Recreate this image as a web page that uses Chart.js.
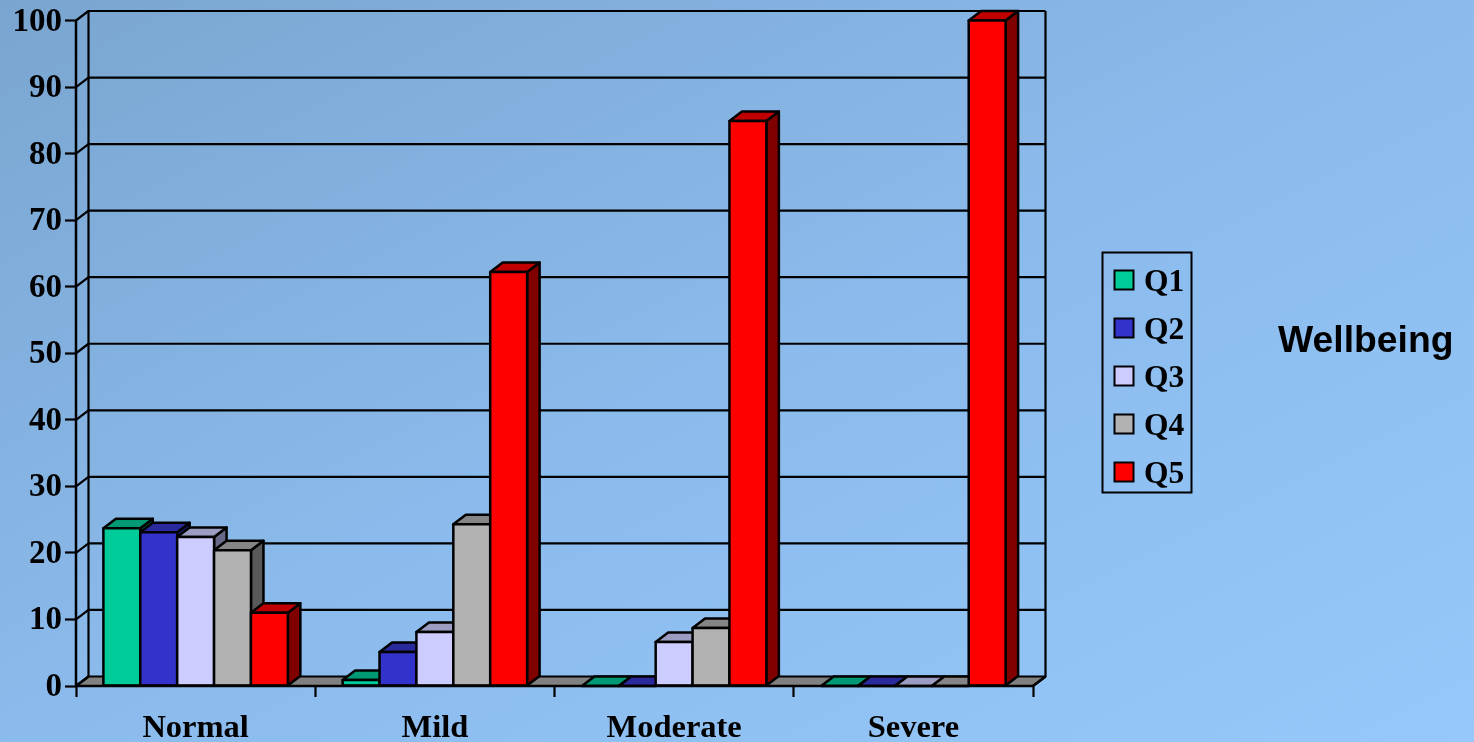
<!DOCTYPE html>
<html>
<head>
<meta charset="utf-8">
<title>Wellbeing</title>
<script src="https://cdn.jsdelivr.net/npm/chart.js@4"></script>
<style>
  html, body { margin: 0; height: 100%; overflow: hidden; }
  body { background: linear-gradient(to bottom right, #7aa5d0 0%, #8bbbec 50%, #96c8fb 100%); }
  canvas { display: block; }
</style>
</head>
<body>
<canvas id="chart" width="1474" height="742"></canvas>
<script>
// Data
const categories = ['Normal', 'Mild', 'Moderate', 'Severe'];
const q1 = [23.7, 0.9, 0, 0];
const q2 = [23.1, 5.1, 0, 0];
const q3 = [22.4, 8.1, 6.6, 0];
const q4 = [20.4, 24.3, 8.7, 0];
const q5 = [11.0, 62.2, 84.9, 100];
const seriesNames = ['Q1', 'Q2', 'Q3', 'Q4', 'Q5'];
const seriesValues = [q1, q2, q3, q4, q5];
const yTicks = [0, 10, 20, 30, 40, 50, 60, 70, 80, 90, 100];

// Face colours per series
const frontColors = ['#00cc99', '#3333cc', '#ccccff', '#b2b2b2', '#ff0000'];
const topColors = ['#009973', '#2a2a9c', '#9c9cc2', '#858585', '#c00000'];
const sideColors = ['#006b50', '#1a1a70', '#686888', '#595959', '#800000'];

const DEPTH_X = 12.5;
const DEPTH_Y = 9.5;
const LINE = 2.5;
const GRID_LINE = 2.2;
const SERIF = '"Liberation Serif", serif';

function poly(ctx, pts, fill){
  ctx.beginPath();
  pts.forEach((p, i) => i ? ctx.lineTo(p[0], p[1]) : ctx.moveTo(p[0], p[1]));
  ctx.closePath();
  if(fill){ ctx.fillStyle = fill; ctx.fill(); }
  ctx.stroke();
}

function drawWalls(chart, ctx){
  const { left, right, top, bottom } = chart.chartArea;
  const y = chart.scales.y;
  ctx.lineWidth = GRID_LINE;
  // floor
  poly(ctx, [[left, bottom], [left + DEPTH_X, bottom - DEPTH_Y], [right + DEPTH_X, bottom - DEPTH_Y], [right, bottom]], '#808080');
  // grid on the side and back walls
  yTicks.forEach(v => {
    const py = y.getPixelForValue(v);
    ctx.beginPath();
    ctx.moveTo(left, py);
    ctx.lineTo(left + DEPTH_X, py - DEPTH_Y);
    if(v > 0) ctx.lineTo(right + DEPTH_X, py - DEPTH_Y);
    ctx.stroke();
  });
  ctx.beginPath();
  ctx.moveTo(left + DEPTH_X, top - DEPTH_Y);
  ctx.lineTo(left + DEPTH_X, bottom - DEPTH_Y);
  ctx.moveTo(right + DEPTH_X, top - DEPTH_Y);
  ctx.lineTo(right + DEPTH_X, bottom - DEPTH_Y);
  ctx.stroke();
  ctx.lineWidth = LINE;
}

function drawBar(chart, ctx, bar, s){
  const { x, y, base, width } = bar.getProps(['x', 'y', 'base', 'width'], true);
  const l = x - width / 2, r = x + width / 2;
  if(base - y > 0.5){
    poly(ctx, [[r, y], [r + DEPTH_X, y - DEPTH_Y], [r + DEPTH_X, base - DEPTH_Y], [r, base]], sideColors[s]);
  }
  poly(ctx, [[l, y], [l + DEPTH_X, y - DEPTH_Y], [r + DEPTH_X, y - DEPTH_Y], [r, y]], topColors[s]);
  if(base - y > 0.5){
    bar.draw(ctx);
    ctx.strokeRect(l, y, width, base - y);
  }
}

const chart3d = {
  id: 'chart3d',
  // the bars have to be painted left to right so each front covers the last side
  beforeDatasetsDraw(chart){
    const ctx = chart.ctx;
    ctx.save();
    ctx.lineWidth = LINE;
    ctx.strokeStyle = '#000';
    ctx.lineJoin = 'round';
    drawWalls(chart, ctx);
    categories.forEach((c, i) => {
      seriesNames.forEach((n, s) => {
        drawBar(chart, ctx, chart.getDatasetMeta(s).data[i], s);
      });
    });
    // front axis lines go over the bar feet
    const { left, right, bottom, top } = chart.chartArea;
    ctx.beginPath();
    ctx.moveTo(left, top);
    ctx.lineTo(left, bottom);
    ctx.lineTo(right, bottom);
    ctx.lineTo(right + DEPTH_X, bottom - DEPTH_Y);
    ctx.stroke();
    ctx.restore();
    return false;
  },
  afterDraw(chart){
    const ctx = chart.ctx;
    ctx.save();
    // legend
    ctx.lineWidth = 2;
    ctx.strokeStyle = '#000';
    ctx.strokeRect(1102.5, 252.5, 89, 240);
    ctx.textBaseline = 'middle';
    ctx.textAlign = 'left';
    ctx.font = 'bold 31.5px ' + SERIF;
    seriesNames.forEach((n, s) => {
      const cy = 280 + s * 48;
      ctx.fillStyle = frontColors[s];
      ctx.fillRect(1114.5, cy - 9.5, 19, 19);
      ctx.strokeRect(1114.5, cy - 9.5, 19, 19);
      ctx.fillStyle = '#000';
      ctx.fillText(n, 1144, cy + 3);
    });
    // title on the right
    ctx.font = 'bold 37.3px "Liberation Sans", sans-serif';
    ctx.fillText('Wellbeing', 1278, 342);
    ctx.restore();
  }
};

new Chart(document.getElementById('chart'), {
  type: 'bar',
  data: {
    labels: categories,
    datasets: seriesNames.map((name, s) => ({
      label: name,
      data: seriesValues[s],
      backgroundColor: frontColors[s],
      borderWidth: 0
    }))
  },
  plugins: [chart3d],
  options: {
    responsive: false,
    animation: false,
    categoryPercentage: 0.771,
    barPercentage: 1,
    layout: { padding: { top: 20.5, right: 441, bottom: 0, left: 0 } },
    plugins: { legend: { display: false }, title: { display: false }, tooltip: { enabled: false } },
    scales: {
      x: {
        afterFit: s => { s.height = 56; },
        border: { display: false },
        grid: { drawOnChartArea: false, tickColor: '#000', tickWidth: GRID_LINE, tickLength: 11 },
        ticks: { color: '#000', font: { family: SERIF, weight: 'bold', size: 32.5 }, padding: 12, maxRotation: 0 }
      },
      y: {
        min: 0,
        max: 100,
        afterFit: s => { s.width = 76; },
        afterBuildTicks: s => { s.ticks = yTicks.map(v => ({ value: v })); },
        border: { display: false },
        grid: { drawOnChartArea: false, tickColor: '#000', tickWidth: GRID_LINE, tickLength: 11 },
        ticks: { color: '#000', font: { family: SERIF, weight: 'bold', size: 33, lineHeight: 1 }, padding: 3, labelOffset: 1.5 }
      }
    }
  }
});
</script>
</body>
</html>
